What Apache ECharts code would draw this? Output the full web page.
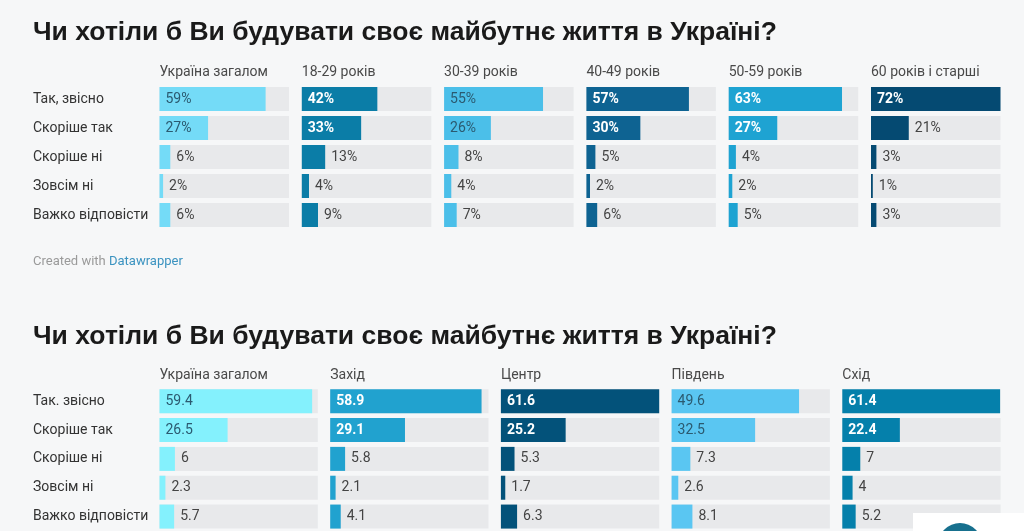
<!DOCTYPE html>
<html>
<head>
<meta charset="utf-8">
<script src="https://cdn.jsdelivr.net/npm/echarts@6/dist/echarts.min.js"></script>
<style>
html,body{margin:0;padding:0;background:#f6f7f8;}
#c{width:1024px;height:531px;}
</style>
</head>
<body>
<div id="c"></div>
<script>
// ---- DATA ----
var chartTitle = 'Чи хотіли б Ви будувати своє майбутнє життя в Україні?';

var rowsTop = ['Так, звісно', 'Скоріше так', 'Скоріше ні', 'Зовсім ні', 'Важко відповісти'];
var groupsTop = ['Україна загалом', '18-29 років', '30-39 років', '40-49 років', '50-59 років', '60 років і старші'];
var topUkraine = [59, 27, 6, 2, 6];
var top18_29 = [42, 33, 13, 4, 9];
var top30_39 = [55, 26, 8, 4, 7];
var top40_49 = [57, 30, 5, 2, 6];
var top50_59 = [63, 27, 4, 2, 5];
var top60plus = [72, 21, 3, 1, 3];

var rowsBottom = ['Так. звісно', 'Скоріше так', 'Скоріше ні', 'Зовсім ні', 'Важко відповісти'];
var groupsBottom = ['Україна загалом', 'Захід', 'Центр', 'Південь', 'Схід'];
var botUkraine = [59.4, 26.5, 6, 2.3, 5.7];
var botWest = [58.9, 29.1, 5.8, 2.1, 4.1];
var botCentre = [61.6, 25.2, 5.3, 1.7, 6.3];
var botSouth = [49.6, 32.5, 7.3, 2.6, 8.1];
var botEast = [61.4, 22.4, 7, 4, 5.2];

// ---- STYLE ----
var FONT = 'Roboto';
var topColors = ['#74dbf7', '#0b7da7', '#4bbfe9', '#0e6392', '#1ea3d2', '#054a72'];
var topLight = [true, false, true, false, false, false];
var botColors = ['#84f1fd', '#21a2cf', '#03527a', '#5ac6f2', '#0580ab'];
var botLight = [true, false, false, true, false];

var topSets = [topUkraine, top18_29, top30_39, top40_49, top50_59, top60plus];
var botSets = [botUkraine, botWest, botCentre, botSouth, botEast];

var grids = [], xAxes = [], yAxes = [], series = [], graphics = [];

function addPanel(opts) {
  var gi = grids.length;
  grids.push({left: opts.left, top: opts.top, width: opts.width, height: opts.height});
  xAxes.push({gridIndex: gi, type: 'value', min: 0, max: opts.max, show: false});
  yAxes.push({
    gridIndex: gi, type: 'category', inverse: true, data: opts.rows,
    axisLine: {show: false}, axisTick: {show: false}, splitLine: {show: false},
    axisLabel: opts.showLabels ? {
      show: true, align: 'left', margin: opts.left - 33, color: '#333', fontFamily: FONT, fontSize: 14
    } : {show: false}
  });
  var data = opts.values.map(function (v) {
    var inside = v / opts.max > 0.33;
    return {
      value: v,
      label: inside ? {
        position: 'insideLeft', distance: 6,
        color: opts.light ? '#2b5a70' : '#ffffff',
        fontWeight: opts.light ? 'normal' : 'bold'
      } : {position: 'right', distance: 6, color: '#444', fontWeight: 'normal'}
    };
  });
  series.push({
    type: 'bar', xAxisIndex: gi, yAxisIndex: gi, data: data,
    barWidth: 24, itemStyle: {color: opts.color},
    showBackground: true, backgroundStyle: {color: '#e8e9eb'},
    label: {show: true, fontFamily: FONT, fontSize: 14, formatter: opts.fmt},
    animation: false, silent: true
  });
  graphics.push({
    type: 'text', left: opts.left, top: opts.headerY - 8,
    style: {text: opts.header, fill: '#494949', font: '14px ' + FONT}
  });
}

var topMax = Math.max.apply(null, topSets.map(function (a) { return Math.max.apply(null, a); }));
var botMax = Math.max.apply(null, botSets.map(function (a) { return Math.max.apply(null, a); }));

topSets.forEach(function (vals, i) {
  addPanel({
    left: 159.5 + i * 142.3, width: 129.5, top: 84.5, height: 145, max: topMax,
    rows: rowsTop, values: vals, color: topColors[i], light: topLight[i],
    header: groupsTop[i], headerY: 73, showLabels: i === 0,
    fmt: function (p) { return p.value + '%'; }
  });
});
botSets.forEach(function (vals, i) {
  addPanel({
    left: 159.5 + i * 170.7, width: 158.3, top: 386.75, height: 147.5, max: botMax,
    rows: rowsBottom, values: vals, color: botColors[i], light: botLight[i],
    header: groupsBottom[i], headerY: 376, showLabels: i === 0,
    fmt: function (p) { return String(p.value); }
  });
});

graphics.push({type: 'text', left: 33, top: 19, style: {text: chartTitle, fill: '#1a1a1a', font: 'bold 26.5px "Liberation Sans"'}});
graphics.push({type: 'text', left: 33, top: 323, style: {text: chartTitle, fill: '#1a1a1a', font: 'bold 26.5px "Liberation Sans"'}});
graphics.push({
  type: 'text', left: 33, top: 255,
  style: {
    text: '{a|Created with }{b|Datawrapper}',
    rich: {a: {fill: '#9a9a9a', font: '13px ' + FONT}, b: {fill: '#3b93c0', font: '13px ' + FONT}}
  }
});
// overlay element at bottom-right of screenshot
graphics.push({type: 'rect', shape: {x: 913, y: 513, width: 111, height: 18}, style: {fill: '#ffffff'}, z: 100});
graphics.push({type: 'circle', shape: {cx: 960, cy: 545, r: 22}, style: {fill: '#17708e'}, z: 101});

var chart = echarts.init(document.getElementById('c'), null, {renderer: 'canvas'});
chart.setOption({
  backgroundColor: '#f6f7f8',
  animation: false,
  grid: grids, xAxis: xAxes, yAxis: yAxes, series: series, graphic: graphics
});
</script>
</body>
</html>
